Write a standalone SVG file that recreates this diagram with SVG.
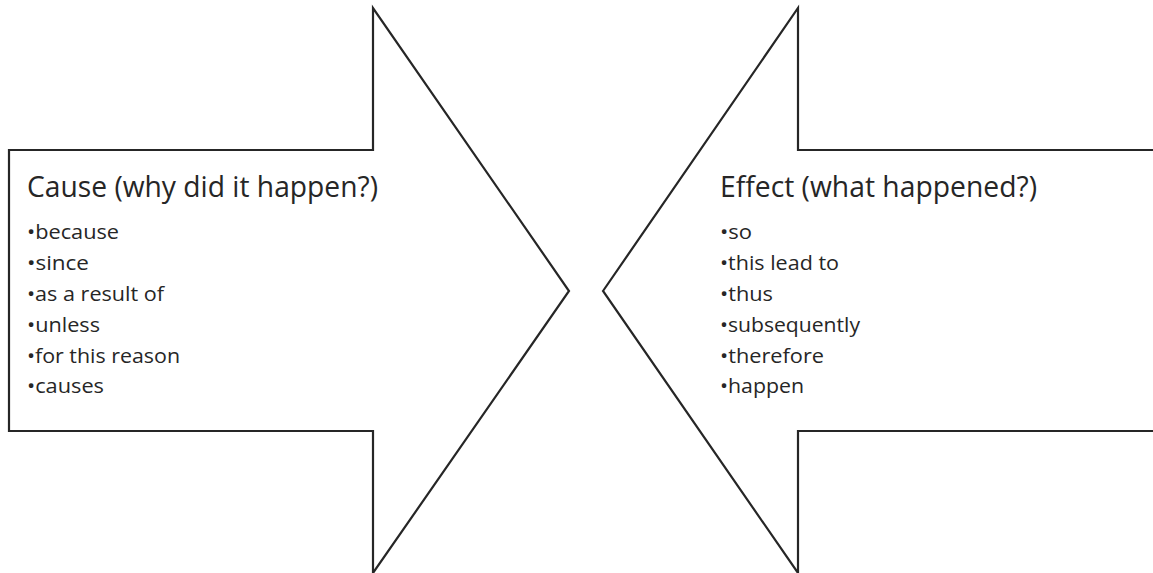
<svg xmlns="http://www.w3.org/2000/svg" width="1153" height="573" viewBox="0 0 1153 573">
<style>
.shape{fill:#fff;stroke:#262626;stroke-width:2.2;stroke-linejoin:miter}
.t{font-family:"Open Sans","Noto Sans","Liberation Sans",sans-serif;fill:#262626}
.h{font-size:29px}
.i{font-size:20.5px}
</style>
<rect width="1153" height="573" fill="#fff"/>
<g id="cause">
<polygon class="shape" points="9,150 373,150 373,8 569,291 373,573 373,431 9,431"/>
<text class="t h" x="27" y="197" textLength="351" lengthAdjust="spacingAndGlyphs">Cause (why did it happen?)</text>
<text class="t i" x="27" y="239" textLength="92" lengthAdjust="spacingAndGlyphs">•because</text>
<text class="t i" x="27" y="270" textLength="62" lengthAdjust="spacingAndGlyphs">•since</text>
<text class="t i" x="27" y="301" textLength="137" lengthAdjust="spacingAndGlyphs">•as a result of</text>
<text class="t i" x="27" y="332" textLength="73" lengthAdjust="spacingAndGlyphs">•unless</text>
<text class="t i" x="27" y="363" textLength="153" lengthAdjust="spacingAndGlyphs">•for this reason</text>
<text class="t i" x="27" y="393" textLength="77" lengthAdjust="spacingAndGlyphs">•causes</text>
</g>
<g id="effect">
<polygon class="shape" points="603,291 798,8 798,150 1160,150 1160,431 798,431 798,573"/>
<text class="t h" x="720" y="197" textLength="317" lengthAdjust="spacingAndGlyphs">Effect (what happened?)</text>
<text class="t i" x="720" y="239" textLength="32" lengthAdjust="spacingAndGlyphs">•so</text>
<text class="t i" x="720" y="270" textLength="119" lengthAdjust="spacingAndGlyphs">•this lead to</text>
<text class="t i" x="720" y="301" textLength="53" lengthAdjust="spacingAndGlyphs">•thus</text>
<text class="t i" x="720" y="332" textLength="140" lengthAdjust="spacingAndGlyphs">•subsequently</text>
<text class="t i" x="720" y="363" textLength="104" lengthAdjust="spacingAndGlyphs">•therefore</text>
<text class="t i" x="720" y="393" textLength="84" lengthAdjust="spacingAndGlyphs">•happen</text>
</g>
<g id="connectors"/>
</svg>
